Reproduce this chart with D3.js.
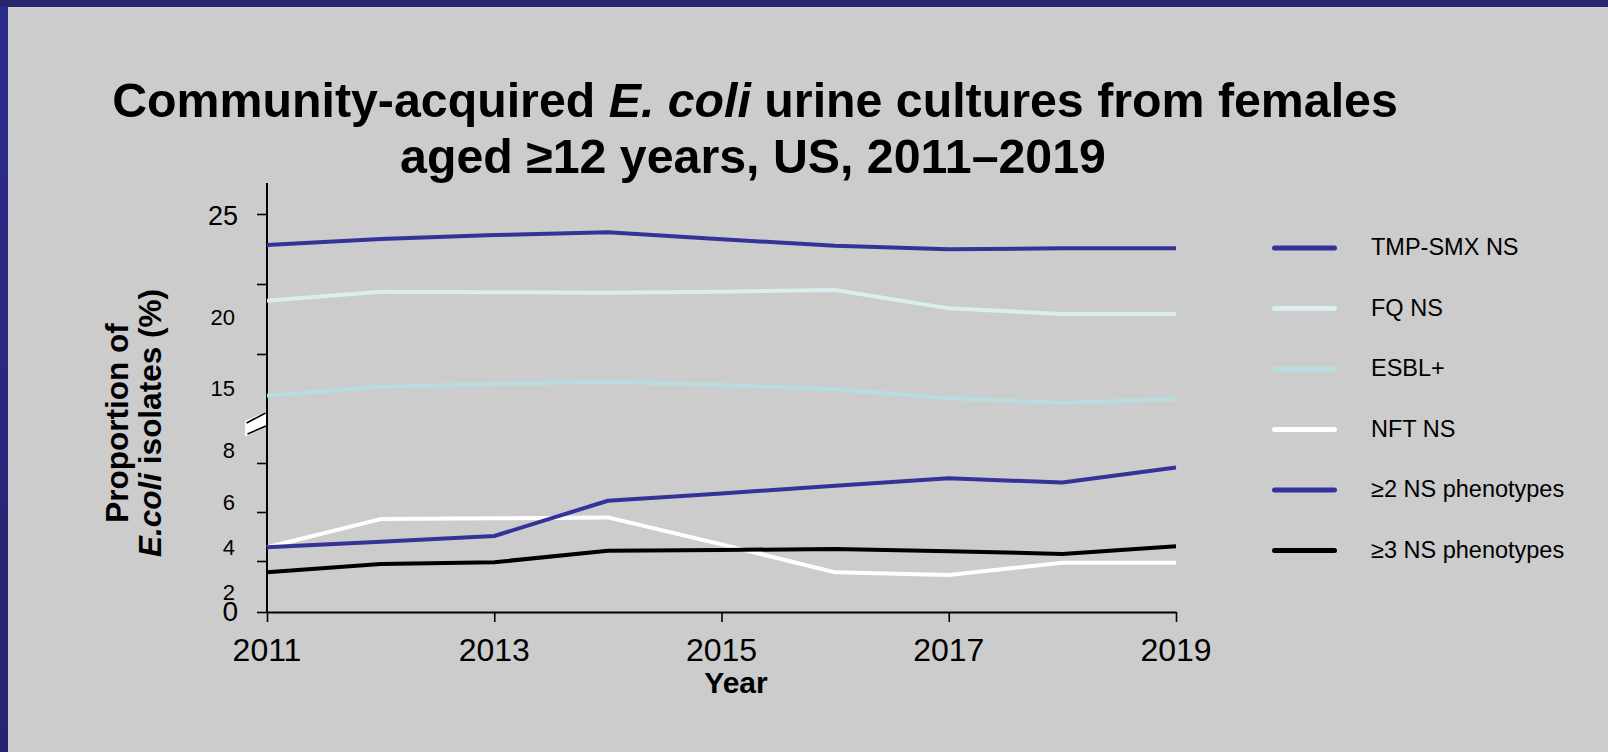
<!DOCTYPE html>
<html>
<head>
<meta charset="utf-8">
<script src="https://cdn.jsdelivr.net/npm/d3@7"></script>
<style>
  html, body { margin: 0; padding: 0; background: #cccccc; }
  svg { display: block; }
  text { font-family: "Liberation Sans", Arial, Helvetica, sans-serif; fill: #000; }
</style>
</head>
<body>
<svg id="chart" width="1608" height="752"></svg>
<script>
// Years on the x axis
const years = [2011, 2012, 2013, 2014, 2015, 2016, 2017, 2018, 2019];
const yearTicks = [2011, 2013, 2015, 2017, 2019];

// Percent of isolates, non-susceptible (NS) or ESBL-positive
const tmpSmxNS = [22.79, 23.21, 23.50, 23.69, 23.19, 22.74, 22.48, 22.55, 22.55];
const fqNS     = [18.81, 19.45, 19.41, 19.38, 19.45, 19.57, 18.26, 17.86, 17.86];
const esblPos  = [12.02, 12.66, 12.86, 13.02, 12.79, 12.48, 11.84, 11.52, 11.79];
const nftNS    = [4.56, 5.71, 5.74, 5.78, 4.68, 3.11, 2.90, 3.87, 3.87];
const ns2Plus  = [4.56, 4.79, 5.02, 6.46, 6.76, 7.07, 7.38, 7.20, 7.82];
const ns3Plus  = [3.11, 3.76, 3.90, 4.42, 4.45, 4.49, 4.40, 4.29, 4.60];

const seriesNames = ["TMP-SMX NS", "FQ NS", "ESBL+", "NFT NS", "\u22652 NS phenotypes", "\u22653 NS phenotypes"];

// The y axis is broken: an upper band and a lower band
const upperTicks = [15, 20, 25];
const lowerTicks = [0, 4, 6, 8];
const tickLabels = ["25", "20", "15", "8", "6", "4", "2", "0"];

// ---- drawing ----
const svg = d3.select("#chart");

// slide frame
const grad = svg.append("defs").append("linearGradient")
  .attr("id", "frameGrad").attr("x1", 0).attr("y1", 0).attr("x2", 0).attr("y2", 1);
grad.append("stop").attr("offset", "0%").attr("stop-color", "#2c2c8e");
grad.append("stop").attr("offset", "100%").attr("stop-color", "#25256f");
svg.append("rect").attr("x", 0).attr("y", 0).attr("width", 1608).attr("height", 752).attr("fill", "#cccccc");
svg.append("rect").attr("x", 0).attr("y", 0).attr("width", 8).attr("height", 752).attr("fill", "url(#frameGrad)");
svg.append("rect").attr("x", 0).attr("y", 0).attr("width", 1608).attr("height", 7).attr("fill", "#27276f");

// scales
const x = d3.scaleLinear().domain([2011, 2019]).range([267, 1176]);
const yUpper = d3.scaleLinear().domain([15, 25]).range([354, 214]);
const yLower = d3.scaleLinear().domain([0, 4, 8]).range([612, 561, 463]);
const axisTop = yUpper.range()[1] - 31;

// title
const title = svg.append("text").attr("text-anchor", "middle")
  .style("font-weight", "bold").style("font-size", "48.3px");
title.append("tspan").attr("x", 755).attr("y", 117).text("Community-acquired ");
title.append("tspan").style("font-style", "italic").text("E. coli");
title.append("tspan").text(" urine cultures from females");
title.append("tspan").attr("x", 753).attr("y", 173).text("aged \u226512 years, US, 2011\u20132019");

// y axis title (two rotated lines)
svg.append("text").attr("transform", "translate(128,423) rotate(-90)")
  .attr("text-anchor", "middle").style("font-weight", "bold").style("font-size", "31.5px")
  .text("Proportion of");
const yt2 = svg.append("text").attr("transform", "translate(161,423) rotate(-90)")
  .attr("text-anchor", "middle").style("font-weight", "bold").style("font-size", "31.5px");
yt2.append("tspan").style("font-style", "italic").text("E.coli");
yt2.append("tspan").text(" isolates (%)");

// axis line and ticks
svg.append("line")
  .attr("x1", x(2011)).attr("x2", x(2011))
  .attr("y1", axisTop).attr("y2", yLower(0))
  .attr("stroke", "#000").attr("stroke-width", 2);

const upperAxis = svg.append("g").attr("transform", `translate(${x(2011)},0)`)
  .call(d3.axisLeft(yUpper).tickValues(upperTicks).tickSize(10).tickFormat(""));
const lowerAxis = svg.append("g").attr("transform", `translate(${x(2011)},0)`)
  .call(d3.axisLeft(yLower).tickValues(lowerTicks).tickSize(10).tickFormat(""));
[upperAxis, lowerAxis].forEach(g => {
  g.select(".domain").remove();
  g.selectAll(".tick line").attr("stroke", "#000").attr("stroke-width", 1.6);
});

const xAxis = svg.append("g").attr("transform", `translate(0,${yLower(0)})`)
  .call(d3.axisBottom(x).tickValues(yearTicks).tickSize(10).tickSizeOuter(0).tickFormat(""));
xAxis.select(".domain").attr("stroke", "#000").attr("stroke-width", 2);
xAxis.selectAll(".tick line").attr("stroke", "#000").attr("stroke-width", 1.6);

// y tick labels, with their slide placement and sizes
const labelStyle = {
  "25": { v: 25, scale: yUpper, dy: 1,  size: 27 },
  "20": { v: 20, scale: yUpper, dy: 33, size: 22 },
  "15": { v: 15, scale: yUpper, dy: 34, size: 22 },
  "8":  { v: 8,  scale: yLower, dy: -13, size: 22 },
  "6":  { v: 6,  scale: yLower, dy: -10, size: 22 },
  "4":  { v: 4,  scale: yLower, dy: -14, size: 22 },
  "2":  { v: 2,  scale: yLower, dy: 6,  size: 22 },
  "0":  { v: 0,  scale: yLower, dy: -1, size: 28 }
};
svg.append("g").selectAll("text").data(tickLabels).join("text")
  .attr("x", d => d === "25" || d === "0" ? 238 : 235)
  .attr("y", d => labelStyle[d].scale(labelStyle[d].v) + labelStyle[d].dy)
  .attr("dy", "0.36em")
  .attr("text-anchor", "end")
  .style("font-size", d => labelStyle[d].size + "px")
  .text(d => d);

// axis break marker
const brk = svg.append("g");
brk.append("path")
  .attr("d", "M245,421 L266,411.5 L266,427 L245,436.5 Z")
  .attr("fill", "#ffffff");
brk.append("line").attr("x1", 246.5).attr("y1", 423).attr("x2", 265.5).attr("y2", 413)
  .attr("stroke", "#000").attr("stroke-width", 1.6);
brk.append("line").attr("x1", 247.5).attr("y1", 434).attr("x2", 266).attr("y2", 426)
  .attr("stroke", "#000").attr("stroke-width", 1.6);

// x tick labels and title
svg.append("g").selectAll("text").data(yearTicks).join("text")
  .attr("x", d => x(d)).attr("y", 661)
  .attr("text-anchor", "middle").style("font-size", "32px")
  .text(d => d);
svg.append("text").attr("x", 736).attr("y", 693).attr("text-anchor", "middle")
  .style("font-weight", "bold").style("font-size", "30px").text("Year");

// series
const series = [
  { name: seriesNames[0], values: tmpSmxNS, scale: yUpper, color: "#333399" },
  { name: seriesNames[1], values: fqNS,     scale: yUpper, color: "#d8eeef" },
  { name: seriesNames[2], values: esblPos,  scale: yUpper, color: "#b8dde1" },
  { name: seriesNames[3], values: nftNS,    scale: yLower, color: "#ffffff" },
  { name: seriesNames[4], values: ns2Plus,  scale: yLower, color: "#333399" },
  { name: seriesNames[5], values: ns3Plus,  scale: yLower, color: "#000000" }
];

const linesG = svg.append("g");
series.forEach(s => {
  const line = d3.line().x((d, i) => x(years[i])).y(d => s.scale(d));
  linesG.append("path")
    .datum(s.values)
    .attr("d", line)
    .attr("fill", "none")
    .attr("stroke", s.color)
    .attr("stroke-width", 4)
    .attr("stroke-linejoin", "round");
});

// legend
const legend = svg.append("g").attr("transform", "translate(1272,248)");
const rows = legend.selectAll("g").data(series).join("g")
  .attr("transform", (d, i) => `translate(0,${i * 60.5})`);
rows.append("line")
  .attr("x1", 2.5).attr("x2", 62.5).attr("y1", 0).attr("y2", 0)
  .attr("stroke", d => d.color).attr("stroke-width", 5).attr("stroke-linecap", "round");
rows.append("text")
  .attr("x", 99).attr("y", 7)
  .style("font-size", "23.5px")
  .text(d => d.name);
</script>
</body>
</html>
